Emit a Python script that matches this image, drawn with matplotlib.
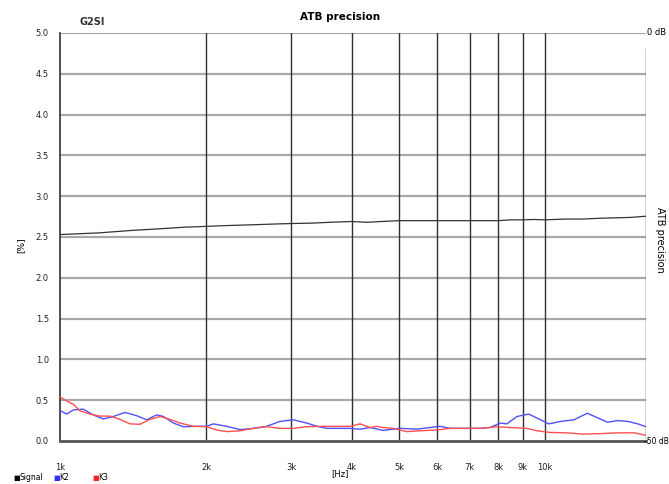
import numpy as np
import matplotlib
matplotlib.use("Agg")
import matplotlib.pyplot as plt

# -------------------
# DATA
# -------------------

sig_f = [1000, 1200, 1400, 1600, 1800, 2000, 2200, 2500, 2800, 3000, 3300, 3600,
         4000, 4300, 4600, 5000, 6000, 7000, 8000, 8500, 9000, 9500, 10000,
         11000, 12000, 13000, 14000, 15000, 16150]
sig_v = [2.53, 2.55, 2.58, 2.60, 2.62, 2.63, 2.64, 2.65, 2.66, 2.665, 2.67, 2.68,
         2.69, 2.68, 2.69, 2.70, 2.70, 2.70, 2.70, 2.71, 2.71, 2.715, 2.71,
         2.72, 2.72, 2.73, 2.735, 2.74, 2.755]

k2_f = [1003, 1032, 1065, 1117, 1171, 1228, 1288, 1361, 1439, 1509, 1582, 1634,
        1713, 1796, 1913, 2005, 2071, 2206, 2350, 2504, 2667, 2841, 3027, 3225,
        3387, 3551, 3960, 4156, 4360, 4634, 5021, 5438, 5790, 6076, 6375, 6680,
        7360, 7703, 8082, 8342, 8752, 9253, 9631, 10183, 10770, 11474, 12223,
        12823, 13452, 14112, 14804, 15531, 16140]
k2_v = [0.37, 0.33, 0.38, 0.39, 0.32, 0.27, 0.30, 0.35, 0.31, 0.26, 0.32, 0.30,
        0.22, 0.175, 0.18, 0.18, 0.21, 0.18, 0.14, 0.155, 0.18, 0.24, 0.26, 0.22,
        0.18, 0.155, 0.155, 0.145, 0.165, 0.13, 0.155, 0.145, 0.165, 0.18, 0.155, 0.155,
        0.155, 0.165, 0.22, 0.21, 0.30, 0.33, 0.28, 0.21, 0.24, 0.26, 0.34,
        0.285, 0.23, 0.25, 0.24, 0.21, 0.175]

k3_f = [1003, 1032, 1065, 1100, 1153, 1209, 1268, 1330, 1394, 1462, 1533, 1607,
        1686, 1768, 1884, 2005, 2105, 2206, 2350, 2504, 2667, 2841, 3027, 3225,
        3488, 3774, 3960, 4156, 4360, 4500, 4634, 4866, 5183, 5527, 5980, 6375,
        7360, 7956, 8456, 9166, 9631, 10237, 11047, 11983, 12969, 14112, 15302, 16140]
k3_v = [0.535, 0.49, 0.45, 0.37, 0.33, 0.305, 0.305, 0.265, 0.21, 0.205, 0.265, 0.30,
        0.265, 0.22, 0.18, 0.175, 0.135, 0.115, 0.125, 0.155, 0.175, 0.155, 0.155, 0.175,
        0.18, 0.18, 0.18, 0.21, 0.165, 0.18, 0.165, 0.155, 0.115, 0.125, 0.135, 0.155,
        0.155, 0.175, 0.165, 0.155, 0.125, 0.105, 0.10, 0.085, 0.09, 0.10, 0.10, 0.07]

xticks = [1000, 2000, 3000, 4000, 5000, 6000, 7000, 8000, 9000, 10000]
xlabels = ["1k", "2k", "3k", "4k", "5k", "6k", "7k", "8k", "9k", "10k"]
yticks = [0.0, 0.5, 1.0, 1.5, 2.0, 2.5, 3.0, 3.5, 4.0, 4.5, 5.0]

# -------------------
# FIGURE
# -------------------

W, H = 669, 484
fig = plt.figure(figsize=(W / 100, H / 100), dpi=100)
ax = fig.add_axes([60 / W, 1 - 441 / H, (646 - 60) / W, (441 - 33) / H])

ax.set_xscale("log")
ax.set_xlim(1000, 16150)
ax.set_ylim(0, 5)

# grid
for y in yticks[1:]:
    ax.axhline(y, color="#a8a8a8", lw=1.6, zorder=1)
for x in xticks[1:]:
    ax.axvline(x, color="#303030", lw=1.0, zorder=1)
ax.axhline(0, color="#555555", lw=2.0, zorder=3, clip_on=False)
ax.axvline(16150, ymin=0, ymax=0.96, color="#303030", lw=1.0, zorder=2)

for s in ax.spines.values():
    s.set_visible(False)
ax.spines["left"].set_visible(True)
ax.spines["left"].set_color("#303030")
ax.spines["left"].set_linewidth(1.2)

ax.plot(sig_f, sig_v, color="#333333", lw=0.9, zorder=4)
ax.plot(k2_f, k2_v, color="#5050ff", lw=1.0, zorder=4)
ax.plot(k3_f, k3_v, color="#ff5050", lw=1.0, zorder=5)

ax.set_xticks(xticks)
ax.set_xticklabels(xlabels)
ax.xaxis.set_minor_locator(matplotlib.ticker.NullLocator())
ax.set_yticks(yticks)
ax.set_yticklabels([f"{v:.1f}" for v in yticks])
ax.tick_params(axis="x", length=0, pad=16, labelsize=6, labelcolor="#222222")
ax.tick_params(axis="y", length=0, pad=8, labelsize=6, labelcolor="#222222")

# texts
fig.text(340 / W, 1 - 17 / H, "ATB precision", ha="center", va="center",
         fontsize=7.5, fontweight="bold")
fig.text(80 / W, 1 - 22 / H, "G2SI", ha="left", va="center",
         fontsize=7, fontweight="bold", color="#333333")
fig.text(21 / W, 1 - 245 / H, "[%]", ha="center", va="center",
         fontsize=6.5, rotation=90)
fig.text(660 / W, 1 - 240 / H, "ATB precision", ha="center", va="center",
         fontsize=7, rotation=-90)
fig.text(647 / W, 1 - 33 / H, "0 dB", ha="left", va="center", fontsize=6)
fig.text(644 / W, 1 - 441 / H, "-50 dB", ha="left", va="center", fontsize=5.5)
fig.text(340 / W, 1 - 474 / H, "[Hz]", ha="center", va="center", fontsize=6)

# legend
leg = [("Signal", "black", 13), ("K2", "#3030ff", 53), ("K3", "#ff2020", 92)]
for name, c, x0 in leg:
    fig.text(x0 / W, 1 - 478 / H, "■", color=c, ha="left", va="center", fontsize=5)
    fig.text((x0 + 6) / W, 1 - 478 / H, name, ha="left", va="center", fontsize=5.5)

fig.savefig("out.png", dpi=100)
